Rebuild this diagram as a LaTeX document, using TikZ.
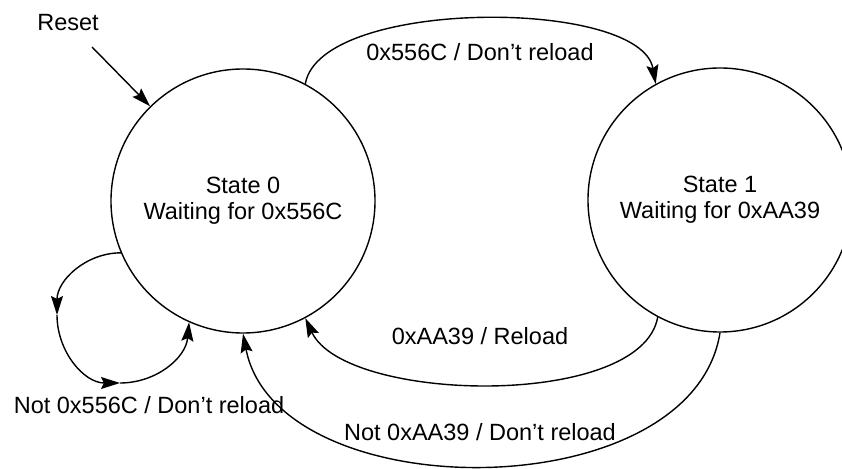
\documentclass[tikz,border=0pt]{standalone}
\usepackage{fontspec}
\setmainfont{Liberation Sans}
\usetikzlibrary{arrows.meta}
\tikzset{
	state/.style={draw,circle,line width=1.4pt,minimum size=264pt,inner sep=0pt,align=center},
	trans/.style={-{Stealth[length=19pt,width=12pt,inset=3pt]},line width=1.4pt},
}
\begin{document}
\begin{tikzpicture}[x=1pt,y=1pt,font=\fontsize{23.5}{26}\selectfont]
		\useasboundingbox (0,0) rectangle (842,468);
		\node[state] (s0) at (243,267) {State 0\\Waiting for 0x556C};
		\node[state] (s1) at (720,268) {State 1\\Waiting for 0xAA39};
		
		\node (reset) at (68,445) {Reset};
		\coordinate (rs) at (92,421);
		\path[trans] (rs) edge (s0);
		
		\path[trans] (s0.62) edge [out=80,in=100,looseness=0.64] (s1.119);
		\path[trans] (s1.242) edge [out=260,in=295,looseness=0.68] (s0.298);
		\path[trans] (s1.south) edge [out=261,in=281,looseness=0.96] (s0.south);
		
		% self loop on state 0
		\coordinate (l1) at (57,153);
		\coordinate (l2) at (120,85);
		\path[trans] (s0.203) edge [out=180,in=90] (l1)
			(l1) edge [out=270,in=180] (l2)
			(l2) edge [out=0,in=265] (s0.246);
		
		\node (ltop) at (480,416) {0x556C / Don’t reload};
		\node (lrel) at (480,132) {0xAA39 / Reload};
		\node (lnot1) at (480,36) {Not 0xAA39 / Don’t reload};
		\node (lnot0) at (149,63) {Not 0x556C / Don’t reload};
\end{tikzpicture}
\end{document}
